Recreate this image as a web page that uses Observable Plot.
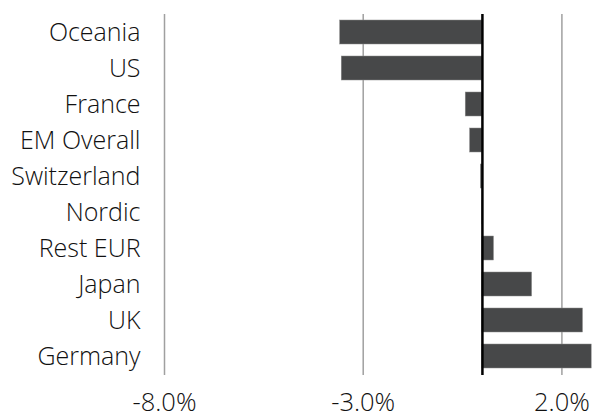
<!DOCTYPE html>
<html>
<head>
<meta charset="utf-8">
<script src="https://cdn.jsdelivr.net/npm/d3@7"></script>
<script src="https://cdn.jsdelivr.net/npm/@observablehq/plot@0.6"></script>
<style>
  html, body { margin: 0; padding: 0; background: #fff; }
  #chart svg { display: block; }
  #chart svg text { font-weight: 300; }
</style>
</head>
<body>
<div id="chart"></div>
<script>
const regions = ["Oceania", "US", "France", "EM Overall", "Switzerland", "Nordic", "Rest EUR", "Japan", "UK", "Germany"];
const values = [-3.58, -3.54, -0.42, -0.31, -0.04, 0.01, 0.29, 1.25, 2.53, 2.75];
const xTicks = [-8, -3, 2];

const data = regions.map((r, i) => ({region: r, value: values[i]}));

const chart = Plot.plot({
  width: 592,
  height: 417,
  marginLeft: 164,
  marginRight: 0,
  marginTop: 14,
  marginBottom: 42,
  style: {fontFamily: "'Open Sans', sans-serif", fontSize: "25px", color: "#111"},
  x: {domain: [-8, 2.77]},
  y: {domain: regions, paddingInner: 0.33, paddingOuter: 0.165},
  marks: [
    Plot.ruleX(xTicks, {stroke: "#a0a0a0", strokeWidth: 1.5}),
    Plot.barX(data, {x: "value", y: "region", fill: "#474849", stroke: "#8a8a8a", strokeWidth: 0.5}),
    Plot.ruleX([0], {stroke: "#000", strokeWidth: 2.5}),
    Plot.axisX({ticks: xTicks, tickSize: 0, tickPadding: 17, tickFormat: d => d.toFixed(1) + "%", fontSize: 25.5, label: null}),
    Plot.axisY({tickSize: 0, tickPadding: 24, fontSize: 25, label: null})
  ]
});
document.getElementById("chart").appendChild(chart);
</script>
</body>
</html>
